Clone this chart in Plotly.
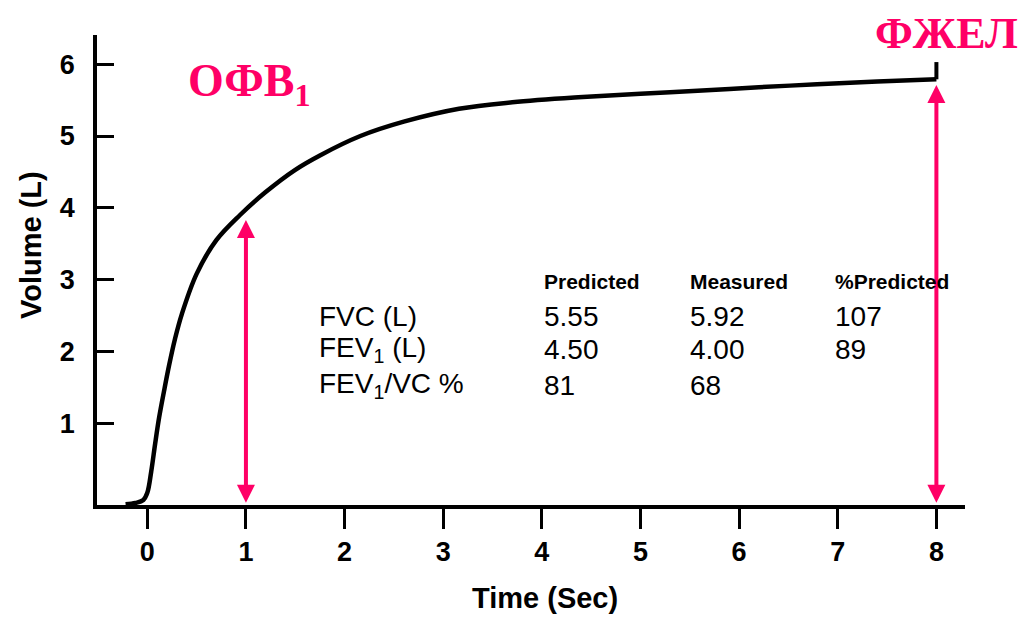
import plotly.graph_objects as go

# ---- data ----
time_s = [-0.22, -0.12, -0.04, 0.00, 0.04, 0.08, 0.12, 0.17, 0.22, 0.28, 0.35, 0.50, 0.70, 0.94,
          1.20, 1.50, 1.75, 2.16, 2.60, 3.16, 3.70, 4.37, 5.00, 5.58, 6.20, 6.79, 7.40, 8.00]
volume_l = [-0.13, -0.11, -0.07, 0.03, 0.33, 0.72, 1.08, 1.45, 1.80, 2.17, 2.52, 3.08, 3.55, 3.90,
            4.22, 4.53, 4.73, 5.00, 5.20, 5.38, 5.47, 5.54, 5.59, 5.63, 5.68, 5.72, 5.76, 5.79]
end_mark_t = [8.0, 8.0]
end_mark_v = [5.79, 6.03]

x_ticks = [0, 1, 2, 3, 4, 5, 6, 7, 8]
y_ticks = [1, 2, 3, 4, 5, 6]

fev1_time, fev1_vol = 1.0, 3.83
fvc_time, fvc_vol = 8.0, 5.71
base_vol = -0.13

row_labels = ["FVC (L)", "FEV<sub>1</sub> (L)", "FEV<sub>1</sub>/VC %"]
col_headers = ["Predicted", "Measured", "%Predicted"]
predicted = ["5.55", "4.50", "81"]
measured = ["5.92", "4.00", "68"]
pct_predicted = ["107", "89", ""]

PINK = "#FF0066"
SANS = "Liberation Sans, Arial, sans-serif"
SERIF = "Liberation Serif, Times New Roman, serif"

L, R, T, B = 97, 63, 35, 112
W, H = 1028, 617
PW, PH = W - L - R, H - T - B


def paper(xp, yp):
    return (xp - L) / PW, (H - B - yp) / PH


fig = go.Figure()
fig.add_trace(go.Scatter(x=time_s, y=volume_l, mode="lines",
                         line=dict(color="black", width=4.5, shape="spline", smoothing=1.0),
                         hoverinfo="skip", showlegend=False))
fig.add_trace(go.Scatter(x=end_mark_t, y=end_mark_v, mode="lines",
                         line=dict(color="black", width=4), hoverinfo="skip", showlegend=False))

annotations = []
# double-headed arrows
for t, v in [(fev1_time, fev1_vol), (fvc_time, fvc_vol)]:
    annotations.append(dict(x=t, y=v, ax=t, ay=base_vol, xref="x", yref="y", axref="x", ayref="y",
                            text="", showarrow=True, arrowcolor=PINK, arrowwidth=4,
                            arrowhead=2, arrowsize=0.9, arrowside="end+start",
                            startarrowhead=2, startarrowsize=0.9))

# pink labels
px_, py_ = paper(249, 84)
annotations.append(dict(x=px_, y=py_, xref="paper", yref="paper", showarrow=False,
                        text="ОФВ<sub>1</sub>", xanchor="center", yanchor="middle",
                        font=dict(family=SERIF, size=46, color=PINK, weight="bold")))
px_, py_ = paper(946, 33)
annotations.append(dict(x=px_, y=py_, xref="paper", yref="paper", showarrow=False,
                        text="ФЖЕЛ", xanchor="center", yanchor="middle",
                        font=dict(family=SERIF, size=44, color=PINK, weight="bold")))

# table
col_x = [1.72, 4.0, 5.48, 6.95]
header_y = 2.97
row_y = [2.48, 2.02, 1.53]
for cx, h in zip(col_x[1:], col_headers):
    annotations.append(dict(x=cx, y=header_y, xref="x", yref="y", showarrow=False, text=h,
                            xanchor="left", yanchor="middle",
                            font=dict(family=SANS, size=21, color="black", weight="bold")))
for i, ry in enumerate(row_y):
    for cx, txt in zip(col_x, [row_labels[i], predicted[i], measured[i], pct_predicted[i]]):
        if txt:
            annotations.append(dict(x=cx, y=ry, xref="x", yref="y", showarrow=False, text=txt,
                                    xanchor="left", yanchor="middle",
                                    font=dict(family=SANS, size=28, color="black")))

# axis titles
px_, py_ = paper(545, 598)
annotations.append(dict(x=px_, y=py_, xref="paper", yref="paper", showarrow=False,
                        text="Time (Sec)", xanchor="center", yanchor="middle",
                        font=dict(family=SANS, size=29, color="black", weight="bold")))
px_, py_ = paper(31, 245)
annotations.append(dict(x=px_, y=py_, xref="paper", yref="paper", showarrow=False,
                        text="Volume (L)", textangle=-90, xanchor="center", yanchor="middle",
                        font=dict(family=SANS, size=29, color="black", weight="bold")))

fig.update_layout(
    width=W, height=H,
    margin=dict(l=L, r=R, t=T, b=B),
    paper_bgcolor="white", plot_bgcolor="white",
    annotations=annotations,
    showlegend=False,
)
fig.update_xaxes(range=[-0.51, 8.29], tickvals=x_ticks, ticktext=[str(v) for v in x_ticks],
                 showgrid=False, zeroline=False, showline=True, linecolor="black", linewidth=3.5,
                 ticks="outside", ticklen=20, tickwidth=3, tickcolor="black",
                 tickfont=dict(family=SANS, size=27, color="black", weight="bold"))
fig.update_yaxes(range=[-0.139, 6.407], tickvals=y_ticks, ticktext=[str(v) for v in y_ticks],
                 showgrid=False, zeroline=False, showline=True, linecolor="black", linewidth=3.5,
                 ticks="inside", ticklen=17, tickwidth=3, tickcolor="black", ticklabelstandoff=13,
                 tickfont=dict(family=SANS, size=27, color="black", weight="bold"))

fig.write_html("out.html", config={"displayModeBar": False},
               post_script="document.body.style.margin='0px';")
